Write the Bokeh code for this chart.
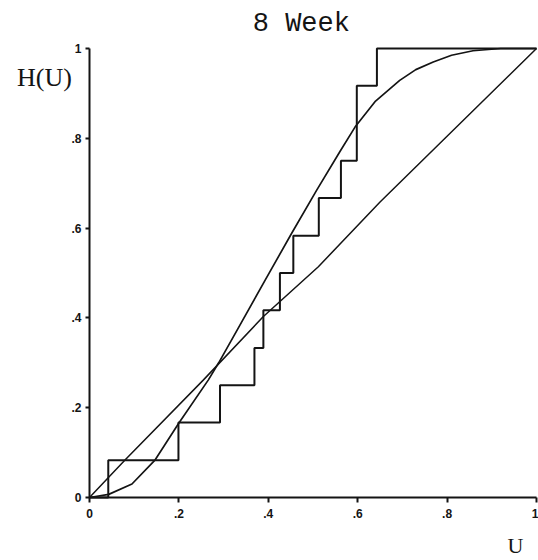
from bokeh.plotting import figure
from bokeh.models import Range1d, Label, FixedTicker, LinearAxis
from bokeh.embed import file_html
from bokeh.resources import INLINE

# Empirical (step) distribution H(U)
step_u = [0.0, 0.042, 0.199, 0.292, 0.369, 0.389, 0.426, 0.456, 0.513, 0.5625, 0.598, 0.643, 1.0]
step_h = [0.0, 0.083, 0.167, 0.25, 0.333, 0.417, 0.5, 0.583, 0.667, 0.75, 0.917, 1.0, 1.0]

# Smooth S-shaped curve
curve_u = [0.0, 0.043, 0.095, 0.147, 0.2, 0.266, 0.289, 0.34, 0.393, 0.452, 0.508, 0.56, 0.594,
           0.64, 0.694, 0.73, 0.769, 0.81, 0.858, 0.92, 1.0]
curve_h = [0.0, 0.007, 0.03, 0.084, 0.166, 0.262, 0.3, 0.39, 0.484, 0.588, 0.684, 0.77, 0.825,
           0.883, 0.929, 0.953, 0.97, 0.985, 0.995, 1.0, 1.0]

# Near-diagonal reference line
diag_u = [0.0, 0.08, 0.255, 0.389, 0.512, 0.65, 1.0]
diag_h = [0.0, 0.084, 0.262, 0.403, 0.514, 0.658, 1.0]

tick_vals = [0, 0.2, 0.4, 0.6, 0.8, 1.0]
tick_text = ["0", ".2", ".4", ".6", ".8", "1"]

title_text = "8 Week"
ylabel_text = "H(U)"
xlabel_text = "U"

ink = "#141414"

# frame fills the canvas; axes are pinned at U=0 / H=0
p = figure(width=538, height=560, output_backend="svg", toolbar_location=None,
           x_range=Range1d(-0.1991, 1.0045), y_range=Range1d(-0.1403, 1.1069),
           x_axis_type=None, y_axis_type=None,
           min_border_left=0, min_border_right=0, min_border_top=0, min_border_bottom=0)
p.outline_line_color = None
p.background_fill_color = "white"
p.border_fill_color = "white"

xax = LinearAxis(fixed_location=0, bounds=(0, 1))
yax = LinearAxis(fixed_location=0, bounds=(0, 1))
p.add_layout(xax, "below")
p.add_layout(yax, "left")

for ax in (xax, yax):
    ax.ticker = FixedTicker(ticks=tick_vals)
    ax.major_label_overrides = {v: t for v, t in zip(tick_vals, tick_text)}
    ax.minor_tick_line_color = None
    ax.axis_line_width = 2
    ax.axis_line_color = ink
    ax.major_tick_line_color = ink
    ax.major_tick_line_width = 2
    ax.major_tick_in = 0
    ax.major_label_text_font = "Liberation Sans"
    ax.major_label_text_font_style = "bold"
    ax.major_label_text_font_size = "12px"
    ax.major_label_text_color = ink

xax.major_tick_out = 5
xax.major_label_standoff = 6
yax.major_tick_out = 4
yax.major_label_standoff = 4

p.line(diag_u, diag_h, line_color=ink, line_width=1.5)
p.line(curve_u, curve_h, line_color=ink, line_width=1.7)
p.step(step_u, step_h, mode="after", line_color=ink, line_width=2)

p.add_layout(Label(x=0.474, y=1.055, text=title_text, text_align="center", text_baseline="middle",
                   text_font="Liberation Mono", text_font_size="27px", text_color=ink))
p.add_layout(Label(x=-0.1007, y=0.935, text=ylabel_text, text_align="center", text_baseline="middle",
                   text_font="Liberation Serif", text_font_size="26px", text_color=ink))
p.add_layout(Label(x=0.953, y=-0.106, text=xlabel_text, text_align="center", text_baseline="middle",
                   text_font="Liberation Serif", text_font_size="22px", text_color=ink))

open("out.html", "w").write(file_html(p, INLINE))
